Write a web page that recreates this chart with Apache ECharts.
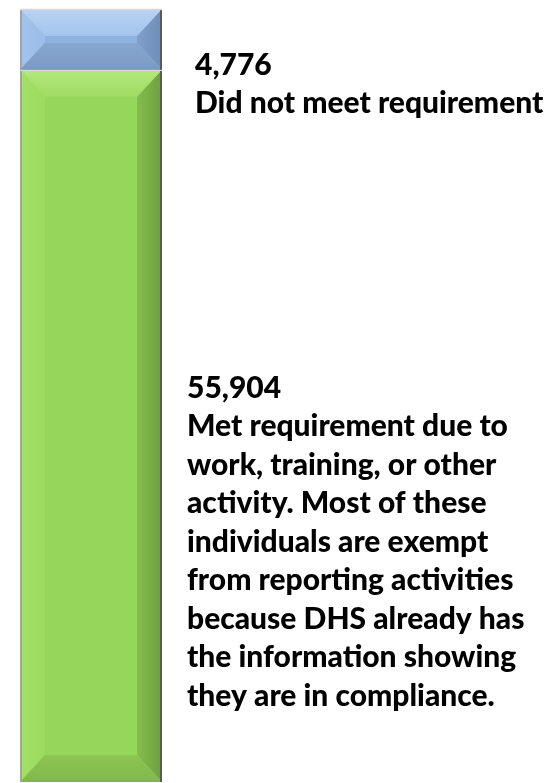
<!DOCTYPE html>
<html>
<head>
<meta charset="utf-8">
<title>Work requirement compliance</title>
<script src="https://cdn.jsdelivr.net/npm/echarts@6/dist/echarts.min.js"></script>
<style>
  html, body { margin: 0; padding: 0; background: #ffffff; }
  #chart { width: 549px; height: 783px; }
</style>
</head>
<body>
<div id="chart"></div>
<script>
// Single stacked column: individuals who met vs. did not meet the requirement
const categories = ['Individuals'];
const metValues = [55904];
const notMetValues = [4776];
const metNote = 'Met requirement due to\nwork, training, or other\nactivity. Most of these\nindividuals are exempt\nfrom reporting activities\nbecause DHS already has\nthe information showing\nthey are in compliance.';
const notMetNote = 'Did not meet requirement';

// Bevelled face colours for each segment
const palettes = [
  { // green: met requirement
    top: ['#b2e97c', '#a0db64'],
    left: ['#a2e165', '#9cdb5f'],
    face: '#95d75a',
    right: ['#84bd4c', '#6e9f3e'],
    bottom: ['#8dc653', '#80b74b'],
    label: { dx: 25, dy: 299 }
  },
  { // blue: did not meet requirement
    top: ['#b8d4f4', '#a4c4ec'],
    left: ['#a3c3ec', '#9bbde8'],
    face: '#8fb3e1',
    right: ['#809fcb', '#6e8db7'],
    bottom: ['#88a7d0', '#7b99c3'],
    label: { dx: 33, dy: 37 }
  }
];

// Stack segments: [category index, start, end, palette index]
const items = [];
categories.forEach((c, i) => {
  items.push([i, 0, metValues[i], 0]);
  items.push([i, metValues[i], metValues[i] + notMetValues[i], 1]);
});
const notes = [metNote, notMetNote];
const total = metValues[0] + notMetValues[0];

function grad(stops, horizontal) {
  return new echarts.graphic.LinearGradient(0, 0, horizontal ? 1 : 0, horizontal ? 0 : 1, [
    { offset: 0, color: stops[0] },
    { offset: 1, color: stops[1] }
  ]);
}

function renderSegment(params, api) {
  const cat = api.value(0);
  const start = api.value(1);
  const end = api.value(2);
  const p = palettes[api.value(3)];
  const lo = api.coord([cat, start]);
  const hi = api.coord([cat, end]);
  const w = api.size([1, 0])[0];
  const x0 = hi[0] - w / 2, x1 = hi[0] + w / 2;
  const y0 = hi[1], y1 = lo[1];
  const h = y1 - y0;
  const bx = 25;
  const by = Math.min(27, h / 2);

  const poly = (pts, fill) => ({ type: 'polygon', shape: { points: pts }, style: { fill: fill }, silent: true });

  const children = [
    { type: 'rect', shape: { x: x0, y: y0, width: w, height: h }, style: { fill: p.face } },
    poly([[x0, y0], [x0 + bx, y0 + by], [x0 + bx, y1 - by], [x0, y1]], grad(p.left, true)),
    poly([[x1, y0], [x1 - bx, y0 + by], [x1 - bx, y1 - by], [x1, y1]], grad(p.right, true)),
    poly([[x0, y1], [x1, y1], [x1 - bx, y1 - by], [x0 + bx, y1 - by]], grad(p.bottom, false)),
    poly([[x0, y0], [x1, y0], [x1 - bx, y0 + by], [x0 + bx, y0 + by]], grad(p.top, false)),
    // side edges
    { type: 'line', shape: { x1: x0 + 1, y1: y0, x2: x0 + 1, y2: y1 }, style: { stroke: '#a4a4a4', lineWidth: 2 } },
    { type: 'line', shape: { x1: x1 - 1, y1: y0, x2: x1 - 1, y2: y1 }, style: { stroke: '#5a5a5a', lineWidth: 2 } },
    // thin light seam at the top of the segment
    { type: 'line', shape: { x1: x0, y1: y0 + 0.5, x2: x1, y2: y0 + 0.5 }, style: { stroke: '#d8d8d8', lineWidth: 1.5 } },
    {
      type: 'text',
      style: {
        text: (end - start).toLocaleString('en-US') + '\n' + notes[api.value(3)],
        x: x1 + p.label.dx,
        y: y0 + p.label.dy,
        fill: '#000000',
        fontFamily: 'Lato',
        fontWeight: 900,
        fontSize: 30,
        lineHeight: 38.5,
        align: 'left',
        verticalAlign: 'top'
      }
    }
  ];
  return { type: 'group', children: children };
}

const chart = echarts.init(document.getElementById('chart'), null, { renderer: 'canvas' });
chart.setOption({
  animation: false,
  grid: { left: 20, top: 9, width: 142, bottom: 1 },
  xAxis: { type: 'category', data: categories, show: false },
  yAxis: { type: 'value', min: 0, max: total, show: false },
  series: [{
    type: 'custom',
    renderItem: renderSegment,
    data: items,
    clip: false
  }]
});
</script>
</body>
</html>
